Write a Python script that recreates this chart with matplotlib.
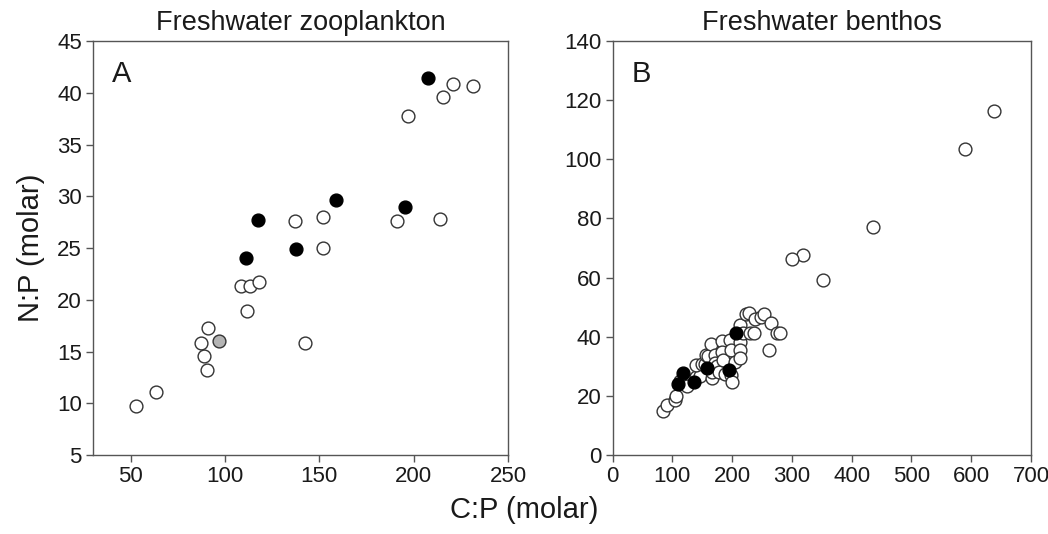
import numpy as np
import matplotlib.pyplot as plt

plt.rcParams['font.family'] = ['Liberation Sans', 'DejaVu Sans']

# Panel A: freshwater zooplankton (C:P, N:P)
zoo_open_cp = [53, 63.5, 87.4, 88.8, 90.2, 90.9, 108.5, 113.5, 118.1, 111.6,
               137, 142.3, 151.8, 152.1, 191.1, 214.1, 196.8, 215.7, 220.9, 231.7]
zoo_open_np = [9.7, 11.1, 15.8, 14.6, 13.2, 17.3, 21.3, 21.3, 21.7, 18.9,
               27.6, 15.8, 28.0, 25.0, 27.6, 27.8, 37.8, 39.6, 40.9, 40.7]
zoo_fill_cp = [111, 117.6, 137.4, 159.1, 195.4, 207.7]
zoo_fill_np = [24.0, 27.7, 24.9, 29.6, 29.0, 41.4]
zoo_gray_cp = [96.8]
zoo_gray_np = [16.0]

# Panel B: freshwater benthos
ben_open_cp = [638, 590, 435, 318.6, 301, 352,
               84.5, 90.7, 103.7, 105.4, 112, 124, 139.5, 146.3, 140, 150.2,
               154, 157, 159.3, 165, 167, 166.7, 170.8, 170.8, 174.6, 177.4,
               183, 183, 184.7, 188, 195.8, 198.6, 198.6, 199.5, 204, 212.5,
               212.5, 212.5, 213.6, 218, 223.6, 228.5, 230, 236.4, 237.5,
               248.6, 254, 262.5, 265, 274.7, 280.6]
ben_open_np = [116.3, 103.4, 77.2, 67.8, 66.3, 59.2,
               14.9, 17.0, 18.7, 19.9, 25.0, 23.3, 26.4, 26.7, 30.4, 30.8,
               30.7, 33.7, 33.4, 37.7, 25.9, 27.9, 33.7, 31.1, 30.2, 27.9,
               38.6, 34.9, 32.1, 27.3, 38.8, 35.4, 27.0, 24.6, 31.5, 38.2,
               35.4, 32.8, 43.9, 41.3, 47.6, 48.0, 41.1, 41.3, 46.1,
               46.7, 47.6, 35.4, 44.8, 41.3, 41.4]
ben_fill_cp = [110, 118, 136.6, 158, 195.6, 206.3]
ben_fill_np = [23.9, 27.7, 24.7, 29.4, 28.9, 41.4]

fig = plt.figure(figsize=(10.48, 5.34), dpi=100)
axA = fig.add_axes([0.0887, 0.148, 0.396, 0.775])
axB = fig.add_axes([0.5845, 0.148, 0.3993, 0.775])

ms = 85
edge = '#333333'
txt = '#1a1a1a'
for ax in (axA, axB):
    for sp in ax.spines.values():
        sp.set_color('#555555')
        sp.set_linewidth(1.0)
    ax.tick_params(direction='out', length=5, width=1, color='#555555',
                   labelsize=16, labelcolor=txt, pad=3)

axA.scatter(zoo_open_cp, zoo_open_np, s=ms, facecolor='white', edgecolor=edge, linewidth=1, zorder=3)
axA.scatter(zoo_gray_cp, zoo_gray_np, s=ms, facecolor='#b4b4b4', edgecolor=edge, linewidth=1, zorder=3)
axA.scatter(zoo_fill_cp, zoo_fill_np, s=ms, facecolor='black', edgecolor='black', linewidth=1, zorder=4)
axA.set_xlim(30, 250)
axA.set_ylim(5, 45)
axA.set_xticks([50, 100, 150, 200, 250])
axA.set_yticks(np.arange(5, 46, 5))
axA.set_title('Freshwater zooplankton', fontsize=19.5, color=txt, pad=8)
axA.text(0.046, 0.955, 'A', transform=axA.transAxes, fontsize=21, va='top', color=txt)

axB.scatter(ben_open_cp, ben_open_np, s=ms, facecolor='white', edgecolor=edge, linewidth=1, zorder=3)
axB.scatter(ben_fill_cp, ben_fill_np, s=ms, facecolor='black', edgecolor='black', linewidth=1, zorder=4)
axB.set_xlim(0, 700)
axB.set_ylim(0, 140)
axB.set_xticks(np.arange(0, 701, 100))
axB.set_yticks(np.arange(0, 141, 20))
axB.set_title('Freshwater benthos', fontsize=19.5, color=txt, pad=8)
axB.text(0.046, 0.955, 'B', transform=axB.transAxes, fontsize=21, va='top', color=txt)

fig.text(0.03, 0.535, 'N:P (molar)', rotation=90, ha='center', va='center', fontsize=21, color=txt)
fig.text(0.5, 0.045, 'C:P (molar)', ha='center', va='center', fontsize=21, color=txt)

fig.savefig('out.png', dpi=100)
